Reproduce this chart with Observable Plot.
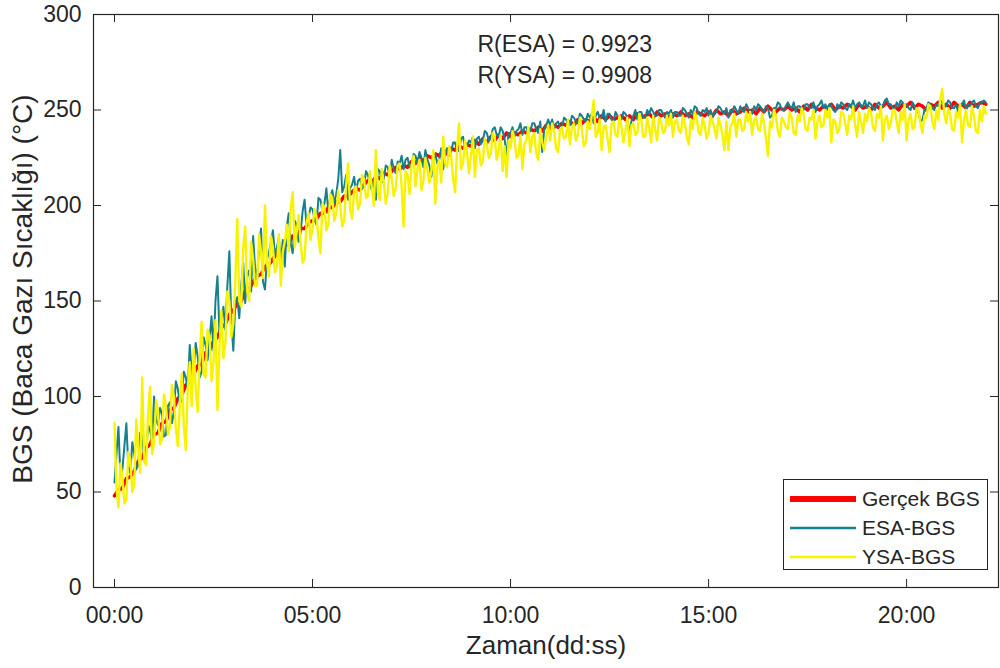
<!DOCTYPE html>
<html><head><meta charset="utf-8">
<script src="https://cdn.jsdelivr.net/npm/d3@7"></script>
<script src="https://cdn.jsdelivr.net/npm/@observablehq/plot@0.6"></script>
<style>
body{margin:0;background:#fff;}
#chart{position:relative;width:1000px;height:668px;font-family:"Liberation Sans",Arial,sans-serif;color:#262626;}
#legend{position:absolute;left:783px;top:479px;width:203px;height:89px;border:1px solid #262626;background:#fff;}
.row{position:absolute;left:0;height:29px;display:flex;align-items:center;font-size:21px;color:#262626;white-space:nowrap;}
.row svg{margin-left:6px;margin-right:6px;}
</style></head>
<body><div id="chart"></div>
<script>
// measured temperature: one value every 0.1 minute from 0
const gercekStart = 0, gercekStep = 0.1;
const gercekBGS = [
48,51,52,57,58,61,66,68,73,75,
80,81,86,87,93,94,99,101,106,108,
112,116,117,123,124,129,131,136,138,143,
145,149,150,155,156,160,163,164,168,169,
172,175,175,179,180,184,184,188,188,191,
192,193,196,196,199,199,202,202,205,205,
207,209,208,211,213,212,215,214,217,216,
218,220,219,221,220,223,222,225,223,226,
225,227,226,229,227,230,229,231,230,232,
231,234,232,235,233,236,234,237,235,238,
236,238,237,239,238,240,239,241,239,242,
240,242,241,243,242,244,242,245,243,245,
244,246,244,247,245,247,245,246,247,245,
247,245,248,246,247,248,246,249,247,248,
246,248,247,249,247,248,246,249,248,247,
249,247,250,248,249,247,250,248,249,251,
249,250,248,251,249,252,250,249,251,250,
252,250,251,249,252,250,253,251,250,252,
251,253,250,252,251,253,252,250,253,251,
252,250,253,251,252,254,251,252,250,253,
252,254,251,253,252,250,253,252,254,251,
253,251,254,252,253,251,254,252,253,254,
253];

// model outputs: one value every 0.05 minute from 0
const modelStart = 0, modelStep = 0.05;
const esaBGS = [
55,70,84,58,62,74,86,63,60,76,70,62,64,81,79,68,71,85,82,77,
100,88,85,94,91,79,80,95,97,86,92,108,104,96,99,113,110,104,127,112,
114,128,121,110,113,131,127,119,130,142,124,150,163,133,140,147,135,158,176,139,
124,149,152,141,158,170,149,163,166,155,184,167,162,179,188,160,156,172,175,181,
187,174,178,183,170,182,168,189,196,180,175,192,190,181,186,197,203,189,194,199,
198,193,190,204,203,197,201,209,196,205,208,201,206,214,229,207,210,216,203,209,
211,215,207,213,214,209,210,218,216,211,208,214,203,219,218,212,214,221,220,215,
224,219,217,223,222,226,219,224,225,220,221,227,226,222,228,225,220,229,224,221,
215,224,227,222,224,230,219,227,230,226,228,233,233,228,229,235,236,230,231,234,
233,236,230,235,236,232,234,239,238,234,235,240,241,237,236,241,239,235,225,238,
238,241,236,239,240,243,237,241,241,238,239,243,243,240,238,244,228,240,242,245,
242,245,240,243,244,241,241,246,245,243,242,247,246,244,243,248,247,245,244,248,
246,248,243,247,249,246,246,250,244,248,248,245,244,249,247,245,245,249,248,246,
237,244,247,250,245,249,249,246,246,250,248,251,249,247,247,250,250,248,246,249,
248,250,246,249,249,247,247,251,250,248,246,250,248,252,251,248,247,250,249,251,
247,250,246,249,249,252,251,249,248,251,246,250,249,252,250,248,252,250,249,253,
251,249,248,252,250,253,252,250,249,252,251,246,247,251,251,254,253,250,250,252,
254,252,251,254,249,252,252,250,250,253,253,251,251,254,249,252,253,255,251,253,
250,253,252,250,249,253,251,254,253,251,250,253,252,255,251,253,254,252,252,255,
251,254,253,251,250,253,254,252,252,255,256,253,253,251,250,254,252,255,254,252,
253,251,250,254,252,249,249,244,245,250,251,254,253,251,250,253,252,255,254,252,
252,255,254,251,251,253,249,252,253,255,250,253,252,254,255,252,251,254,254,255,
254];

const ysaBGS = [
86,52,42,65,58,44,46,71,67,50,54,88,73,60,110,66,64,92,105,70,
76,98,92,75,78,101,95,80,84,106,100,83,74,96,112,85,72,104,118,95,
125,104,92,120,139,112,110,135,132,108,118,140,93,126,145,120,128,155,150,131,
138,160,193,150,147,178,189,155,150,181,172,158,158,185,176,162,200,170,163,184,
178,165,168,185,158,176,181,190,176,199,207,178,186,195,180,170,172,191,196,182,
188,198,194,183,175,201,199,187,190,206,204,192,196,208,200,189,192,211,222,198,
193,208,210,198,201,216,214,204,205,218,209,200,229,207,203,219,212,201,207,221,
214,205,209,221,222,210,189,218,216,206,221,226,210,219,224,208,213,225,219,212,
218,229,201,220,224,212,236,222,220,231,226,214,207,230,243,219,222,234,228,217,
226,236,215,229,230,221,223,235,232,225,227,238,236,224,229,237,218,231,215,234,
230,239,235,225,226,237,219,232,234,241,228,236,238,227,224,240,233,229,236,242,
234,243,239,230,228,240,241,235,236,245,232,241,243,234,237,246,240,231,233,244,
240,247,255,236,238,245,229,241,242,235,228,243,244,237,236,247,241,233,239,246,
231,242,243,237,238,248,245,236,236,246,241,233,247,240,234,246,244,238,239,247,
242,248,236,244,245,239,238,247,243,236,232,245,240,249,246,238,237,246,242,235,
238,247,244,240,235,246,242,237,229,244,229,241,243,248,236,245,245,239,240,249,
244,249,237,245,246,240,239,248,243,235,226,244,241,250,247,239,236,246,244,241,
240,249,246,238,237,247,244,251,248,240,239,246,245,250,235,244,247,241,242,250,
246,251,233,245,244,238,240,249,248,243,237,247,245,252,242,236,249,244,238,248,
244,251,249,241,239,248,246,252,234,245,247,240,243,250,250,244,238,249,245,253,
234,245,248,240,241,251,250,243,238,247,246,253,252,244,240,250,245,256,261,248,
243,251,248,240,239,249,246,253,233,245,250,242,241,252,247,239,238,250,244,252,
248];

const seriesNames = ["Gerçek BGS", "ESA-BGS", "YSA-BGS"];
const seriesColors = ["#ff0000", "#16808f", "#f7f300"];
const seriesWidths = [3.5, 2, 2.4];
const legendWidths = [6, 2.5, 2.5];

const xTicks = [0, 5, 10, 15, 20];
const xTickLabels = ["00:00", "05:00", "10:00", "15:00", "20:00"];
const yTicks = [0, 50, 100, 150, 200, 250, 300];
const xDomain = [-0.53, 22.32];
const yDomain = [0, 300];
const xLabel = "Zaman(dd:ss)";
const yLabel = "BGS (Baca Gazı Sıcaklığı) (°C)";
const annotations = ["R(ESA) = 0.9923", "R(YSA) = 0.9908"];

const W = 1000, H = 668;
const mL = 93, mR = 2, mT = 14, mB = 81;
const tickPx = 8;
const tickX = (xDomain[1] - xDomain[0]) / (W - mL - mR) * tickPx;
const tickY = (yDomain[1] - yDomain[0]) / (H - mT - mB) * tickPx;

const toRows = (vals, start, step) => vals.map((v, i) => ({t: start + i * step, v}));
const rows = [
  toRows(gercekBGS, gercekStart, gercekStep),
  toRows(esaBGS, modelStart, modelStep),
  toRows(ysaBGS, modelStart, modelStep)
];

const ink = "#262626";
const plot = Plot.plot({
  width: W, height: H,
  marginLeft: mL, marginRight: mR, marginTop: mT, marginBottom: mB,
  style: {fontFamily: '"Liberation Sans", Arial, sans-serif', color: ink, background: "#fff"},
  x: {domain: xDomain},
  y: {domain: yDomain},
  marks: [
    ...rows.map((r, s) => Plot.line(r, {x: "t", y: "v", stroke: seriesColors[s], strokeWidth: seriesWidths[s], strokeLinejoin: "round"})),
    Plot.frame({stroke: ink, strokeWidth: 1.2}),
    Plot.ruleY(yTicks, {y: d => d, x1: xDomain[0], x2: xDomain[0] + tickX, stroke: ink}),
    Plot.ruleY(yTicks, {y: d => d, x1: xDomain[1], x2: xDomain[1] - tickX, stroke: ink}),
    Plot.ruleX(xTicks, {x: d => d, y1: yDomain[0], y2: yDomain[0] + tickY, stroke: ink}),
    Plot.ruleX(xTicks, {x: d => d, y1: yDomain[1], y2: yDomain[1] - tickY, stroke: ink}),
    Plot.axisX(xTicks, {tickSize: 0, tickPadding: 19, fontSize: 23, label: null,
      tickFormat: d => xTickLabels[xTicks.indexOf(d)]}),
    Plot.axisY(yTicks, {tickSize: 0, tickPadding: 12, fontSize: 23, label: null}),
    Plot.text([xLabel], {frameAnchor: "bottom", dy: 66, fontSize: 26}),
    Plot.text([yLabel], {frameAnchor: "left", rotate: -90, textAnchor: "middle", dx: -70, dy: -12, fontSize: 28}),
    Plot.text([annotations.join("\n")], {frameAnchor: "top-left", dx: 384, dy: 15, textAnchor: "start", lineAnchor: "top", lineHeight: 1.35, fontSize: 23})
  ]
});
const chart = document.getElementById("chart");
chart.appendChild(plot);

const legend = document.createElement("div");
legend.id = "legend";
seriesNames.forEach((name, i) => {
  const row = document.createElement("div");
  row.className = "row";
  row.style.top = (4 + i * 29) + "px";
  row.innerHTML = `<svg width="66" height="10"><line x1="0" x2="66" y1="5" y2="5" stroke="${seriesColors[i]}" stroke-width="${legendWidths[i]}"/></svg><span>${name}</span>`;
  legend.appendChild(row);
});
chart.appendChild(legend);
</script>
</body></html>
